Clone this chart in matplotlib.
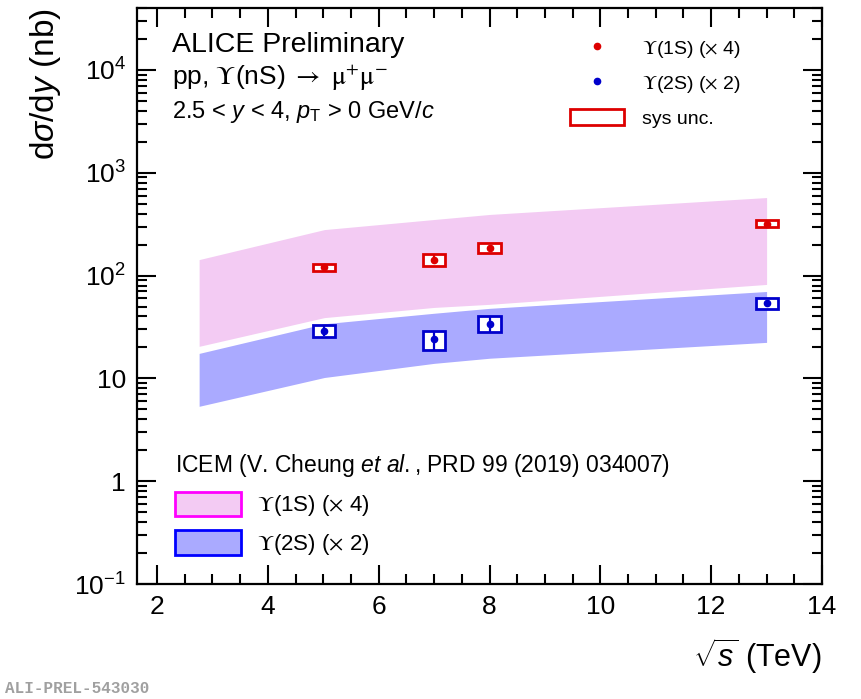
import matplotlib
matplotlib.use("Agg")
import matplotlib.pyplot as plt
from matplotlib.patches import Rectangle, Patch
from matplotlib.lines import Line2D
from matplotlib.ticker import FixedLocator, FuncFormatter, LogLocator, MultipleLocator, NullFormatter

plt.rcParams['font.family'] = ['Liberation Sans', 'DejaVu Sans']
plt.rcParams['mathtext.fontset'] = 'custom'
plt.rcParams['mathtext.rm'] = 'Liberation Sans'
plt.rcParams['mathtext.it'] = 'Liberation Sans:italic'
plt.rcParams['mathtext.bf'] = 'Liberation Sans:bold'

# ALICE data (scaled)
energies = [5.02, 7.0, 8.0, 13.0]
ups1s = [120, 143, 187, 320]
ups1s_stat = [3, 14, 12, 6]
ups1s_sys = [10, 19, 20, 25]
ups2s = [29, 24, 34, 54]
ups2s_stat = [3, 5, 6, 4]
ups2s_sys = [4, 5, 6, 7]

# ICEM model bands
icem_sqrts = [2.76, 5.02, 7.0, 8.0, 13.0]
icem1s_lo = [20.5, 39, 49, 52.5, 82]
icem1s_hi = [143, 280, 351, 393, 574]
icem2s_lo = [5.35, 10.2, 14, 15.7, 22.4]
icem2s_hi = [17.5, 34, 43, 48, 70]

etiq_1s = r'$\Upsilon$(1S) ($\times$ 4)'
etiq_2s = r'$\Upsilon$(2S) ($\times$ 2)'

rojo = '#dd0000'
azul = '#0000cc'

fig = plt.figure(figsize=(8.62, 6.99), dpi=100)
ax = fig.add_axes([0.159, 0.1645, 0.7946, 0.824])
ax.set_yscale('log')

ax.fill_between(icem_sqrts, icem1s_lo, icem1s_hi, color='#f3cbf3', lw=0, zorder=1)
ax.fill_between(icem_sqrts, icem2s_lo, icem2s_hi, color='#aaaaff', lw=0, zorder=1)

# cajas de sistematico
ancho = 0.2
for datos, sis, col in [(ups1s, ups1s_sys, rojo), (ups2s, ups2s_sys, azul)]:
    for e, v, s in zip(energies, datos, sis):
        ax.add_patch(Rectangle((e - ancho, v - s), 2 * ancho, 2 * s,
                               facecolor='white', edgecolor=col, lw=2, zorder=3))

ax.errorbar(energies, ups1s, yerr=ups1s_stat, fmt='o', color=rojo, ms=4.5,
            elinewidth=1.6, capsize=0, zorder=4)
ax.errorbar(energies, ups2s, yerr=ups2s_stat, fmt='o', color=azul, ms=4.5,
            elinewidth=1.6, capsize=0, zorder=4)

ax.set_xlim(1.64, 14)
ax.set_ylim(0.1, 4e4)

ax.xaxis.set_major_locator(MultipleLocator(2))
ax.xaxis.set_minor_locator(MultipleLocator(0.5))
ax.yaxis.set_major_locator(FixedLocator([0.1, 1, 10, 100, 1000, 10000]))
ax.yaxis.set_minor_locator(LogLocator(base=10, subs=range(2, 10)))
ax.yaxis.set_minor_formatter(NullFormatter())
etiquetas = {0.1: r'$10^{-1}$', 1: '1', 10: '10', 100: r'$10^{2}$', 1000: r'$10^{3}$', 10000: r'$10^{4}$'}
ax.yaxis.set_major_formatter(FuncFormatter(lambda v, p: etiquetas.get(round(v, 3), '')))

ax.tick_params(which='both', direction='in', top=True, right=True, width=1.5)
ax.tick_params(which='major', length=14, labelsize=19, pad=8)
ax.tick_params(which='minor', length=7)
for s in ax.spines.values():
    s.set_linewidth(1.6)

ax.set_ylabel(r'd$\sigma$/d$y$ (nb)', fontsize=24, loc='top', labelpad=8)
ax.set_xlabel(r'$\sqrt{s}$ (TeV)', fontsize=22, loc='right', labelpad=12)

ax.text(0.051, 0.936, 'ALICE Preliminary', transform=ax.transAxes, fontsize=20.5, va='center')
ax.text(0.051, 0.878, r'pp, $\Upsilon$(nS) $\rightarrow$ $\mathrm{\mu}^{+}\mathrm{\mu}^{-}$',
        transform=ax.transAxes, fontsize=19, va='center', math_fontfamily='stix')
ax.text(0.051, 0.819, r'2.5 < $y$ < 4, $p_{\rm T}$ > 0 GeV/$c$', transform=ax.transAxes,
        fontsize=17, va='center')

h_datos = [Line2D([], [], ls='none', marker='o', color=rojo, ms=4.5),
           Line2D([], [], ls='none', marker='o', color=azul, ms=4.5),
           Patch(facecolor='white', edgecolor=rojo, lw=2)]
leg1 = ax.legend(h_datos, [etiq_1s, etiq_2s, 'sys unc.'], loc='upper left',
                 bbox_to_anchor=(0.632, 0.947), frameon=False, fontsize=14,
                 borderpad=0, borderaxespad=0,
                 handlelength=2.8, handleheight=0.95, labelspacing=0.72, handletextpad=0.9)
for t in leg1.get_texts():
    t.set_math_fontfamily('stix')
ax.add_artist(leg1)

h_modelo = [Patch(facecolor='#f3cbf3', edgecolor='#ff00ff', lw=2),
            Patch(facecolor='#aaaaff', edgecolor='#0000ff', lw=2)]
leg2 = ax.legend(h_modelo, [etiq_1s, etiq_2s], loc='lower left',
                 bbox_to_anchor=(0.055, 0.047), frameon=False, fontsize=16,
                 borderpad=0, borderaxespad=0,
                 title=r'ICEM (V. Cheung $et\ al.$, PRD 99 (2019) 034007)', title_fontsize=16.5,
                 alignment='left', handlelength=3.0, handleheight=1.3, labelspacing=0.55,
                 handletextpad=0.7)
for t in leg2.get_texts():
    t.set_math_fontfamily('stix')

fig.text(0.006, 0.008, 'ALI-PREL-543030', family='Liberation Mono', color='#a0a0a0',
         fontsize=11.5, weight='bold')

fig.savefig('out.png', dpi=100)
